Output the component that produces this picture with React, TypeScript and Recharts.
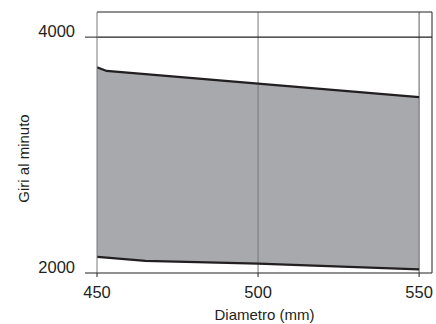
import React from 'react';
import { ComposedChart, Area, Line, XAxis, YAxis, ReferenceLine } from 'recharts';

const diameters = [450, 453, 465, 500, 550];
const upperRpm = [3745, 3713, 3686, 3606, 3492];
const lowerRpm = [2136, 2130, 2102, 2079, 2031];
const xTicks = [450, 500, 550];
const yTicks = [2000, 4000];
const xDomain = [450, 554];
const yDomain = [2000, 4213];

const data = diameters.map((d, i) => ({
  d,
  high: upperRpm[i],
  low: lowerRpm[i],
  range: [lowerRpm[i], upperRpm[i]],
}));

const FONT = 'Liberation Sans, Arial, Helvetica, sans-serif';
const INK = '#231f20';
const GRID = '#77787b';
const FILL = '#a7a9ac';
const TICK_FS = 16.5;

const YLabel = (props: any) => {
  const vb = props.viewBox || { x: 0, y: 0, width: 0, height: 0 };
  const x = vb.x + 29;
  const y = vb.y + vb.height / 2 + 16;
  return (
    <text x={x} y={y} transform={`rotate(-90 ${x} ${y})`} textAnchor="middle" fontSize={15} fill={INK} fontFamily={FONT}>
      Giri al minuto
    </text>
  );
};

const XTick = (props: any) => {
  const { x, y, payload } = props;
  return (
    <text x={x} y={y + 18} textAnchor="middle" fontSize={TICK_FS} fill={INK} fontFamily={FONT}>
      {payload.value}
    </text>
  );
};

const YTick = (props: any) => {
  const { x, y, payload } = props;
  return (
    <text x={x} y={y} textAnchor="end" fontSize={TICK_FS} fill={INK} fontFamily={FONT}>
      {payload.value}
    </text>
  );
};

export default function App() {
  return (
    <div style={{ position: 'absolute', left: 0, top: 0 }}>
      <ComposedChart width={436} height={324} data={data} margin={{ top: 12, right: 4, bottom: 21, left: 0 }}>
        <XAxis
          dataKey="d"
          type="number"
          domain={xDomain}
          ticks={xTicks}
          allowDataOverflow
          tickSize={4}
          tickMargin={3}
          height={30}
          stroke={INK}
          axisLine={{ stroke: INK }}
          tickLine={{ stroke: INK }}
          tick={<XTick />}
          label={{ value: 'Diametro (mm)', position: 'bottom', offset: 6, fill: INK, fontSize: 15, fontFamily: FONT }}
        />
        <YAxis
          type="number"
          domain={yDomain}
          ticks={yTicks}
          allowDataOverflow
          width={97}
          tickSize={12}
          tickMargin={10}
          axisLine={{ stroke: GRID }}
          tickLine={{ stroke: INK }}
          tick={<YTick />}
          label={<YLabel />}
        />
        <Area
          dataKey="range"
          type="linear"
          fill={FILL}
          fillOpacity={1}
          stroke="none"
          isAnimationActive={false}
        />
        <ReferenceLine x={500} stroke={GRID} strokeWidth={1} />
        <ReferenceLine x={550} stroke={GRID} strokeWidth={1.2} />
        <ReferenceLine x={554} stroke={INK} strokeWidth={1} />
        <ReferenceLine y={4000} stroke={INK} strokeWidth={1.2} />
        <ReferenceLine y={4213} stroke={INK} strokeWidth={1} />
        <Line dataKey="high" type="linear" stroke={INK} strokeWidth={2.2} dot={false} isAnimationActive={false} />
        <Line dataKey="low" type="linear" stroke={INK} strokeWidth={2.2} dot={false} isAnimationActive={false} />
      </ComposedChart>
    </div>
  );
}
